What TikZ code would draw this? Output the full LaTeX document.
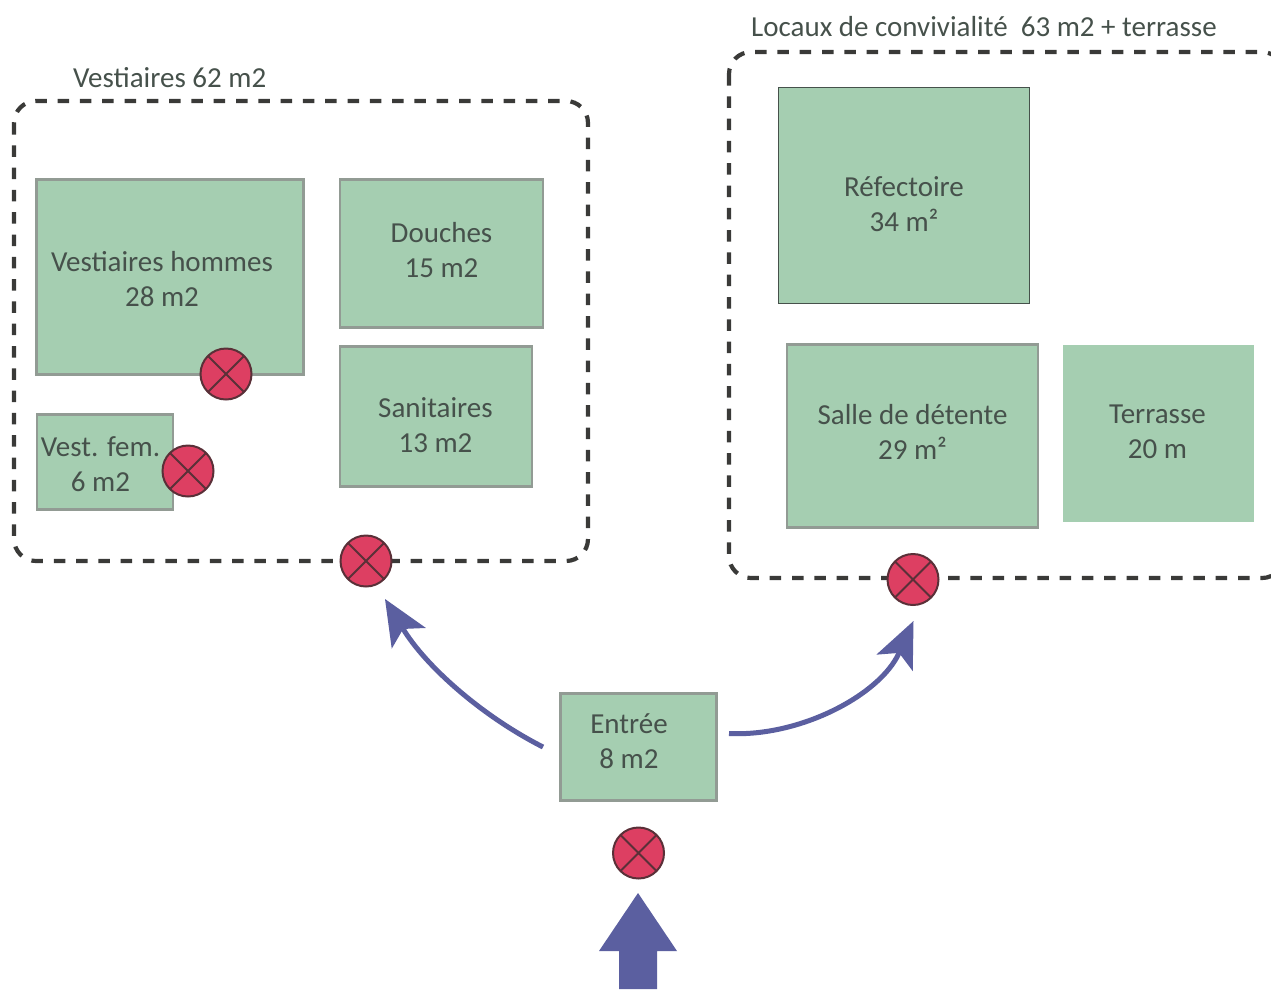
\documentclass[tikz,border=0pt]{standalone}
\usepackage{fontspec}
\setmainfont{Carlito}
\usetikzlibrary{arrows.meta}
\definecolor{roomgreen}{HTML}{A5CEB1}
\definecolor{roomedge}{HTML}{929B94}
\definecolor{txt}{HTML}{46514B}
\definecolor{zone}{HTML}{3A3A38}
\definecolor{blueA}{HTML}{5B5FA0}
\definecolor{redA}{HTML}{DD3F62}
\definecolor{redE}{HTML}{5A3038}
\tikzset{
  x=1pt,y=-1pt,
  room/.style={rectangle,fill=roomgreen,draw=roomedge,line width=2.6pt,inner sep=0pt,anchor=north west},
  roomdark/.style={room,draw=txt,line width=1.5pt},
  roomplain/.style={room,draw=none},
  lbl/.style={align=center,text=txt,font=\fontsize{29}{35}\selectfont,inner sep=0pt},
  ttl/.style={lbl,anchor=west},
  zonebox/.style={draw=zone,line width=4.2pt,dash pattern=on 11.5pt off 10.8pt,rounded corners=22pt},
  door/.style={circle,fill=redA,draw=redE,line width=2pt,minimum size=51pt,inner sep=0pt,
    path picture={\draw[redE,line width=2pt]
      ([shift={(-20pt,-20pt)}]path picture bounding box.center)--([shift={(20pt,20pt)}]path picture bounding box.center)
      ([shift={(-20pt,20pt)}]path picture bounding box.center)--([shift={(20pt,-20pt)}]path picture bounding box.center);}},
  flow/.style={draw=blueA,line width=5pt,-{Stealth[length=46pt,width=40pt,inset=11pt,line width=0pt]}}
}
\begin{document}
\begin{tikzpicture}
\path[use as bounding box] (0,0) rectangle (1271,989);
\begin{scope}
\clip (0,0) rectangle (1271,989);
\draw[zonebox] (14,101) rectangle (588,561);
\draw[zonebox] (729,52) rectangle (1284,578);

% rooms
\node[room,minimum width=267pt,minimum height=195pt] (vh) at (35.4,178.2) {};
\node[lbl] at (162,279.5) {Vestiaires hommes\\28 m2};
\node[room,minimum width=203pt,minimum height=148pt] (dou) at (338.8,178.2) {};
\node[lbl] at (441.5,250) {Douches\\15 m2};
\node[room,minimum width=192pt,minimum height=140pt] (san) at (338.8,345) {};
\node[lbl] at (435.5,425) {Sanitaires\\13 m2};
\node[room,minimum width=136pt,minimum height=95pt] (vf) at (35.8,413) {};
\node[lbl] at (100.5,464) {Vest. fem.\\6 m2};
\node[roomdark,minimum width=251pt,minimum height=216pt] (ref) at (777.7,86.7) {};
\node[lbl] at (904,204) {Réfectoire\\34 m²};
\node[room,minimum width=251pt,minimum height=183pt] (det) at (785.8,343.2) {};
\node[lbl] at (912.5,431.5) {Salle de détente\\29 m²};
\node[roomplain,minimum width=191pt,minimum height=177pt] (ter) at (1061.5,343.7) {};
\node[lbl] at (1157.5,431.5) {Terrasse\\20 m};
\node[room,minimum width=156pt,minimum height=107pt] (ent) at (559.3,692) {};
\node[lbl] at (629,741.5) {Entrée\\8 m2};

% zone titles
\node[ttl] at (73,78) {Vestiaires 62 m2};
\node[ttl] at (751,27) {Locaux de convivialité\ \ 63 m2 + terrasse};

% doors
\node[door] (d1) at (226,374) {};
\node[door] (d2) at (188,471) {};
\node[door] (d3) at (366,561) {};
\node[door] (d4) at (913,579.5) {};
\node[door] (d5) at (638.5,853) {};

% connectors
\coordinate (sl) at (543,747);
\coordinate (sr) at (729,733.5);
\coordinate (tl) at (385,599);
\coordinate (tr) at (913.5,621);
\draw[flow] (sl) .. controls (480,715) and (425,665) .. (tl);
\draw[flow] (sr) .. controls (800,737) and (880,695) .. (tr);

% entrance arrow
\fill[blueA] (638,893) -- (677,951) -- (657,951) -- (657,989) -- (619,989) -- (619,951) -- (599,951) -- cycle;
\end{scope}
\end{tikzpicture}
\end{document}
